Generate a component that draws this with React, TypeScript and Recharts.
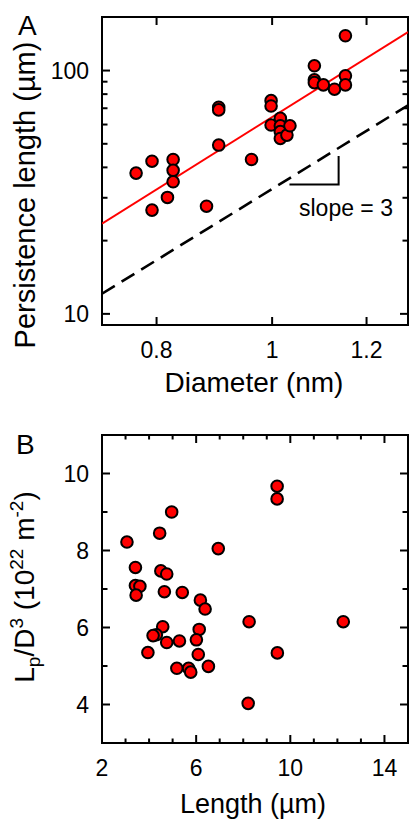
import { ScatterChart, Scatter, XAxis, YAxis, ReferenceArea } from 'recharts'

// Panel A: persistence length vs diameter (log-log)
const diameterNm = [
  0.769, 0.793, 0.826, 0.826, 0.826, 0.817, 0.793, 0.881, 0.902, 0.902, 0.902, 0.961, 0.998, 0.998, 0.998,
  1.016, 1.016, 1.016, 1.016, 1.029, 1.035, 1.085, 1.085, 1.085, 1.104, 1.128, 1.152, 1.152, 1.152,
]
const persistenceUm = [
  37.9, 42.4, 43.1, 38.9, 34.9, 30.1, 26.7, 27.7, 70.7, 68.9, 49.4, 43.1, 75.2, 71.5, 59.7,
  63.6, 59.3, 56.1, 52.6, 54.3, 59.3, 104.6, 91.6, 89.2, 87.3, 83.8, 139, 95.1, 87.3,
]
const fitX = [0.72, 1.3]
const fitRed = [23.5, 144]
const fitDashed = [12.1, 72]
const slopeX = [1.034, 1.137, 1.137]
const slopeY = [34, 34, 44.5]

const xDomainA = [0.72, 1.3]
const yDomainA = [9, 166]
const xTicksA = [0.8, 1, 1.2]
const yTicksA = [10, 20, 30, 40, 50, 60, 70, 80, 90, 100]
const yLabelsA = [10, 100]

// Panel B: Lp/D^3 vs length
const lengthUm = [
  3.06, 3.42, 3.42, 3.61, 3.45, 4.45, 4.5, 4.75, 4.65, 4.96, 5.41, 6.18, 6.38, 6.94, 9.44, 9.44, 8.25,
  12.25, 4.58, 4.31, 4.17, 4.75, 5.29, 6.13, 6.01, 6.09, 3.95, 5.18, 5.68, 5.77, 6.52, 9.45, 8.21,
]
const ratioB = [
  8.22, 7.56, 7.09, 7.07, 6.84, 8.45, 7.47, 7.39, 6.93, 9.0, 6.91, 6.71, 6.48, 8.05, 9.67, 9.34, 6.15,
  6.15, 6.02, 5.81, 5.79, 5.61, 5.65, 5.95, 5.68, 5.3, 5.35, 4.94, 4.94, 4.84, 4.99, 5.34, 4.03,
]
const xDomainB = [2, 15]
const yDomainB = [3, 11]
const xTicksB = [2, 3, 4, 5, 6, 7, 8, 9, 10, 11, 12, 13, 14]
const xLabelsB = [2, 6, 10, 14]
const yTicksB = [4, 5, 6, 7, 8, 9, 10]
const yLabelsB = [4, 6, 8, 10]

const FONT = '"Liberation Sans", Arial, Helvetica, sans-serif'
const LEFT = 102
const RIGHT = 408
const A_TOP = 17
const A_BOTTOM = 325
const B_TOP = 35
const B_BOTTOM = 343
const AXIS_W = 40
const AXIS_H = 40

const ptsA = diameterNm.map((d, i) => ({ x: d, y: persistenceUm[i] }))
const redLine = fitX.map((x, i) => ({ x, y: fitRed[i] }))
const dashLine = fitX.map((x, i) => ({ x, y: fitDashed[i] }))
const slopeMark = slopeX.map((x, i) => ({ x, y: slopeY[i] }))
const ptsB = lengthUm.map((l, i) => ({ x: l, y: ratioB[i] }))

const dot = (p: any) => (
  <circle cx={p.cx} cy={p.cy} r={5.8} fill="#ff0000" stroke="#000" strokeWidth={2} />
)
const noDot = () => <g />

function makeXTick(top: number, bottom: number, labels: number[] | null) {
  return (props: any) => {
    const { x, payload } = props
    const major = labels ? labels.includes(payload.value) : true
    const len = major ? 8 : 4.5
    return (
      <g>
        <line x1={x} x2={x} y1={bottom} y2={bottom - len} stroke="#000" strokeWidth={2} />
        <line x1={x} x2={x} y1={top} y2={top + len} stroke="#000" strokeWidth={2} />
        {major && (
          <text x={x} y={bottom + 33} textAnchor="middle" fontSize={23} fontFamily={FONT} fill="#000">
            {String(payload.value)}
          </text>
        )}
      </g>
    )
  }
}

function makeYTick(labels: number[]) {
  return (props: any) => {
    const { y, payload } = props
    const major = labels.includes(payload.value)
    const len = major ? 8 : 5.5
    return (
      <g>
        <line x1={LEFT} x2={LEFT + len} y1={y} y2={y} stroke="#000" strokeWidth={2} />
        <line x1={RIGHT} x2={RIGHT - len} y1={y} y2={y} stroke="#000" strokeWidth={2} />
        {major && (
          <text x={LEFT - 13} y={y + 8.2} textAnchor="end" fontSize={23} fontFamily={FONT} fill="#000">
            {String(payload.value)}
          </text>
        )}
      </g>
    )
  }
}

export default function App() {
  return (
    <div style={{ position: 'absolute', left: 0, top: 0, width: 409, height: 819, background: '#fff' }}>
      <div style={{ position: 'absolute', left: 0, top: 0 }}>
        <ScatterChart
          width={409}
          height={400}
          margin={{ top: A_TOP, right: 1, bottom: 400 - A_BOTTOM - AXIS_H, left: LEFT - AXIS_W }}
        >
          <XAxis
            type="number"
            dataKey="x"
            scale="log"
            domain={xDomainA}
            allowDataOverflow
            ticks={xTicksA}
            interval={0}
            height={AXIS_H}
            axisLine={false}
            tickLine={false}
            tick={makeXTick(A_TOP, A_BOTTOM, null)}
          />
          <YAxis
            type="number"
            dataKey="y"
            scale="log"
            domain={yDomainA}
            allowDataOverflow
            ticks={yTicksA}
            interval={0}
            width={AXIS_W}
            axisLine={false}
            tickLine={false}
            tick={makeYTick(yLabelsA)}
          />
          <Scatter data={dashLine} line={{ stroke: '#000', strokeWidth: 2.6, strokeDasharray: '15 8' }} shape={noDot} isAnimationActive={false} />
          <Scatter data={redLine} line={{ stroke: '#ff0000', strokeWidth: 2 }} shape={noDot} isAnimationActive={false} />
          <Scatter data={slopeMark} line={{ stroke: '#000', strokeWidth: 2 }} shape={noDot} isAnimationActive={false} />
          <Scatter data={ptsA} shape={dot} isAnimationActive={false} />
          <ReferenceArea x1={xDomainA[0]} x2={xDomainA[1]} y1={yDomainA[0]} y2={yDomainA[1]} fill="none" stroke="#000" strokeWidth={2} />
        </ScatterChart>
      </div>
      <div style={{ position: 'absolute', left: 0, top: 400 }}>
        <ScatterChart
          width={409}
          height={419}
          margin={{ top: B_TOP, right: 1, bottom: 419 - B_BOTTOM - AXIS_H, left: LEFT - AXIS_W }}
        >
          <XAxis
            type="number"
            dataKey="x"
            domain={xDomainB}
            allowDataOverflow
            ticks={xTicksB}
            interval={0}
            height={AXIS_H}
            axisLine={false}
            tickLine={false}
            tick={makeXTick(B_TOP, B_BOTTOM, xLabelsB)}
          />
          <YAxis
            type="number"
            dataKey="y"
            domain={yDomainB}
            allowDataOverflow
            ticks={yTicksB}
            interval={0}
            width={AXIS_W}
            axisLine={false}
            tickLine={false}
            tick={makeYTick(yLabelsB)}
          />
          <Scatter data={ptsB} shape={dot} isAnimationActive={false} />
          <ReferenceArea x1={xDomainB[0]} x2={xDomainB[1]} y1={yDomainB[0]} y2={yDomainB[1]} fill="none" stroke="#000" strokeWidth={2} />
        </ScatterChart>
      </div>
      <svg width={409} height={819} style={{ position: 'absolute', left: 0, top: 0, pointerEvents: 'none' }} fontFamily={FONT} fill="#000">
        <text x={18} y={35} fontSize={28}>A</text>
        <text x={16} y={454} fontSize={28}>B</text>
        <text transform="translate(35,195) rotate(-90)" textAnchor="middle" fontSize={29}>
          Persistence length (µm)
        </text>
        <text x={254} y={392} textAnchor="middle" fontSize={28}>Diameter (nm)</text>
        <text x={299} y={216} fontSize={23}>slope = 3</text>
        <text transform="translate(34,587) rotate(-90)" textAnchor="middle" fontSize={28}>
          L<tspan fontSize={19} dy={6}>p</tspan>
          <tspan dy={-6}>/D</tspan>
          <tspan fontSize={19} dy={-11}>3</tspan>
          <tspan dy={11}> (10</tspan>
          <tspan fontSize={19} dy={-11}>22</tspan>
          <tspan dy={11}> m</tspan>
          <tspan fontSize={19} dy={-11}>-2</tspan>
          <tspan dy={11}>)</tspan>
        </text>
        <text x={253} y={813} textAnchor="middle" fontSize={27}>Length (µm)</text>
      </svg>
    </div>
  )
}
